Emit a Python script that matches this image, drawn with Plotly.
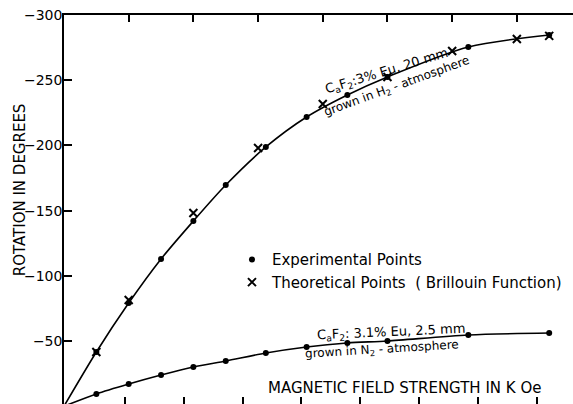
import plotly.graph_objects as go

# Magnetic field strength (kOe) and Faraday rotation (degrees)
field_exp = [2.5, 5, 7.5, 10, 12.5, 15.6, 18.75, 21.9, 25, 31.25, 37.5]
rot_h2_exp = [-41.6, -79.1, -112.9, -142.0, -169.6, -198.8, -221.8, -238.7, -252.5, -275.5, -284.7]
rot_n2_exp = [-9.4, -17.0, -23.9, -30.1, -34.7, -40.8, -45.4, -48.5, -50.0, -54.6, -56.1]
field_theo = [2.5, 5, 10, 15, 20, 25, 30, 35, 37.5]
rot_h2_theo = [-41.6, -81.4, -148.2, -198.0, -231.8, -252.5, -272.4, -281.6, -284.0]
y_ticks = [-300, -250, -200, -150, -100, -50]
top_ticks = [5, 10, 15, 20, 25, 30, 35]
bottom_ticks = [1, 2, 3, 4, 5, 6, 7, 8]

FONT = "DejaVu Sans"
fig = go.Figure()

# curves (through origin)
fig.add_trace(go.Scatter(x=[0] + field_exp, y=[0] + rot_h2_exp, mode="lines",
                         line=dict(color="black", width=1.6, shape="spline", smoothing=0.8),
                         showlegend=False, hoverinfo="skip"))
fig.add_trace(go.Scatter(x=[0] + field_exp, y=[0] + rot_n2_exp, mode="lines",
                         line=dict(color="black", width=1.6, shape="spline", smoothing=0.8),
                         showlegend=False, hoverinfo="skip"))

# experimental points
fig.add_trace(go.Scatter(x=field_exp + field_exp, y=rot_h2_exp + rot_n2_exp, mode="markers",
                         marker=dict(symbol="circle", size=6, color="black"),
                         name="Experimental Points"))
# theoretical points
fig.add_trace(go.Scatter(x=field_theo, y=rot_h2_theo, mode="markers",
                         marker=dict(symbol="x-thin", size=8, color="black",
                                     line=dict(width=2, color="black")),
                         name="Theoretical Points  ( Brillouin Function)"))
# helper trace so the bottom tick axis is drawn (no visible marks)
fig.add_trace(go.Scatter(x=bottom_ticks, y=[None] * len(bottom_ticks), xaxis="x2",
                         mode="markers", showlegend=False, hoverinfo="skip"))

C = dict(xanchor="center", yanchor="middle", showarrow=False)
annos = [
    dict(text="ROTATION IN DEGREES", xref="paper", yref="paper", x=-0.086, y=0.55,
         textangle=-90, font=dict(size=15), **C),
    dict(text="MAGNETIC FIELD STRENGTH IN K Oe", xref="x", yref="y", x=26.35, y=-14,
         font=dict(size=15), **C),
    dict(text="C<sub>a</sub>F<sub>2</sub>:3% Eu, 20 mm", xref="x", yref="y", x=24.96, y=-256.3,
         textangle=-17, font=dict(size=13), **C),
    dict(text="grown in H<sub>2</sub> - atmosphere", xref="x", yref="y", x=25.7, y=-244.8,
         textangle=-20, font=dict(size=12), **C),
    dict(text="C<sub>a</sub>F<sub>2</sub>: 3.1% Eu, 2.5 mm", xref="x", yref="y", x=25.3, y=-56.9,
         textangle=-2.5, font=dict(size=13), **C),
    dict(text="grown in N<sub>2</sub> - atmosphere", xref="x", yref="y", x=24.6, y=-43.1,
         textangle=-3.5, font=dict(size=12), **C),
]

fig.update_layout(
    width=573, height=404,
    margin=dict(l=64, r=0, t=15, b=0),
    paper_bgcolor="white", plot_bgcolor="white",
    font=dict(family=FONT, color="black"),
    showlegend=True,
    legend=dict(x=0.33, y=0.413, xanchor="left", yanchor="top", bgcolor="rgba(0,0,0,0)",
                font=dict(size=15), tracegroupgap=0),
    xaxis=dict(range=[0, 39.34], side="top", showline=True, linewidth=1.5, linecolor="black",
               ticks="inside", ticklen=7, tickwidth=1.5, tickcolor="black", tickvals=top_ticks,
               showticklabels=False, showgrid=False, zeroline=False, automargin=False),
    xaxis2=dict(range=[-0.037, 8.62], overlaying="x", side="bottom", anchor="y",
                ticks="inside", ticklen=7, tickwidth=1.5, tickcolor="black", tickvals=bottom_ticks,
                showline=False, showticklabels=False, showgrid=False, zeroline=False,
                automargin=False),
    yaxis=dict(range=[-1.7, -300], showline=True, linewidth=1.5, linecolor="black",
               ticks="inside", ticklen=8, tickwidth=1.5, tickcolor="black", tickvals=y_ticks,
               tickfont=dict(size=14), ticklabelstandoff=-3,
               showgrid=False, zeroline=False, automargin=False),
    annotations=annos,
)

fig.write_html("out.html", config={"displayModeBar": False},
               post_script="document.body.style.margin='0';")
